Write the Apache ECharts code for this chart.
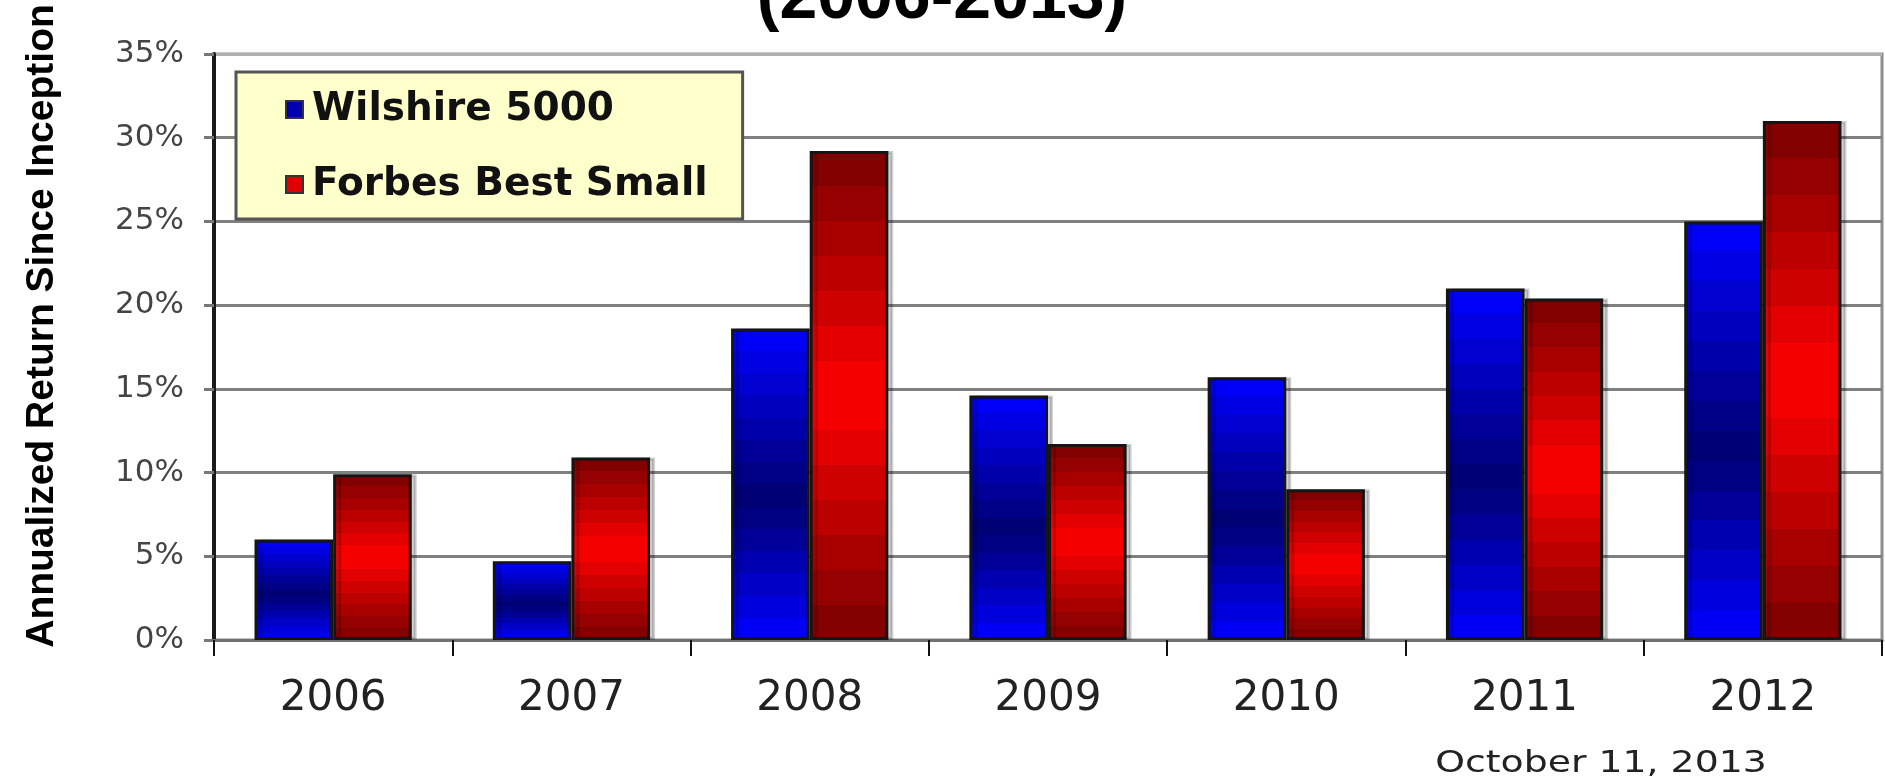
<!DOCTYPE html>
<html>
<head>
<meta charset="utf-8">
<style>
  html, body { margin: 0; padding: 0; background: #ffffff; }
  #chart { width: 1885px; height: 780px; }
</style>
<script src="https://cdn.jsdelivr.net/npm/echarts@6.0.0/dist/echarts.min.js"></script>
</head>
<body>
<div id="chart"></div>
<script>
// ---- data ----
const categories = ['2006', '2007', '2008', '2009', '2010', '2011', '2012'];
const seriesNames = ['Wilshire 5000', 'Forbes Best Small'];
const wilshire5000 = [6.0, 4.7, 18.6, 14.6, 15.7, 21.0, 25.0];
const forbesBestSmall = [9.9, 10.9, 29.2, 11.7, 9.0, 20.4, 31.0];
const yAxisMin = 0, yAxisMax = 35, yAxisInterval = 5;
const titleText = '(2006-2013)';
const yAxisTitle = 'Annualized Return Since Inception';
const dateText = 'October 11, 2013';

// banded vertical gradient: edge colour -> centre colour -> edge colour
function bandedGradient(edge, centre, bands, centrePos) {
  const mix = (a, b, t) => {
    const pa = [1,3,5].map(i => parseInt(a.substr(i,2),16));
    const pb = [1,3,5].map(i => parseInt(b.substr(i,2),16));
    return 'rgb(' + pa.map((v,k) => Math.round(v + (pb[k]-v)*t)).join(',') + ')';
  };
  const stops = [];
  for (let i = 0; i < bands; i++) {
    const p0 = i / bands, p1 = (i + 1) / bands, pm = (p0 + p1) / 2;
    const t = pm < centrePos ? pm / centrePos : (1 - pm) / (1 - centrePos);
    const c = mix(edge, centre, t);
    stops.push({ offset: p0, color: c });
    stops.push({ offset: p1, color: c });
  }
  return new echarts.graphic.LinearGradient(0, 0, 0, 1, stops);
}

const chart = echarts.init(document.getElementById('chart'), null, { renderer: 'canvas' });

const option = {
  animation: false,
  backgroundColor: '#ffffff',
  grid: {
    left: 214, right: 3, top: 54, bottom: 140,
    show: true, borderColor: '#8c8c8c', borderWidth: 3, backgroundColor: 'transparent'
  },
  legend: {
    orient: 'vertical',
    left: 236, top: 72,
    padding: [18, 35, 15, 49],
    itemGap: 36,
    itemWidth: 17, itemHeight: 17,
    backgroundColor: '#FFFFCC',
    borderColor: '#555555', borderWidth: 3,
    textStyle: { fontFamily: 'DejaVu Sans', fontWeight: 'bold', fontSize: 39, color: '#111', padding: [0, 0, 0, 4] },
    data: [
      { name: seriesNames[0], icon: 'rect', itemStyle: { color: '#0000B0', borderColor: '#333', borderWidth: 2 } },
      { name: seriesNames[1], icon: 'rect', itemStyle: { color: '#E00000', borderColor: '#333', borderWidth: 2 } }
    ]
  },
  xAxis: {
    type: 'category',
    data: categories,
    boundaryGap: true,
    axisLine: { show: true, lineStyle: { color: '#707070', width: 3 } },
    axisTick: { show: true, alignWithLabel: false, length: 16, lineStyle: { color: '#111', width: 2 } },
    axisLabel: { margin: 38, fontFamily: 'DejaVu Sans', fontSize: 42, color: '#222' },
    splitLine: { show: false }
  },
  yAxis: {
    type: 'value',
    min: yAxisMin, max: yAxisMax, interval: yAxisInterval,
    axisLine: { show: true, lineStyle: { color: '#1a1a1a', width: 4 } },
    axisTick: { show: true, length: 10, lineStyle: { color: '#777', width: 3 } },
    axisLabel: { margin: 30, formatter: '{value}%', fontFamily: 'DejaVu Sans', fontSize: 31, color: '#444' },
    splitLine: { show: true, lineStyle: {
      color: ['#808080', '#808080', '#808080', '#808080', '#808080', '#808080', '#808080', '#b0b0b0'],
      width: 3 } }
  },
  series: [
    {
      name: seriesNames[0], type: 'bar', data: wilshire5000,
      barGap: '0%', barCategoryGap: '34%',
      itemStyle: {
        color: bandedGradient('#0000FF', '#000070', 14, 0.55),
        borderColor: '#151515', borderWidth: 3,
        shadowColor: 'rgba(0,0,0,0.18)', shadowOffsetX: 5, shadowBlur: 0
      }
    },
    {
      name: seriesNames[1], type: 'bar', data: forbesBestSmall,
      barGap: '0%', barCategoryGap: '34%',
      itemStyle: {
        color: bandedGradient('#780000', '#FF0000', 14, 0.5),
        borderColor: '#151515', borderWidth: 3,
        shadowColor: 'rgba(0,0,0,0.18)', shadowOffsetX: 5, shadowBlur: 0
      }
    }
  ],
  graphic: [
    {
      type: 'text', x: 942, y: -1,
      style: { text: titleText, font: 'bold 68px "Liberation Sans"', fill: '#000', align: 'center', verticalAlign: 'middle' }
    },
    {
      type: 'text', x: 42, y: 326, rotation: Math.PI / 2,
      style: { text: yAxisTitle, font: 'bold 39px "Liberation Sans"', fill: '#000', align: 'center', verticalAlign: 'middle' }
    },
    {
      type: 'text', x: 1601, y: 764, scaleX: 1.26,
      style: { text: dateText, font: '30px "DejaVu Sans"', fill: '#222', align: 'center', verticalAlign: 'middle' }
    }
  ]
};
chart.setOption(option);
</script>
</body>
</html>
